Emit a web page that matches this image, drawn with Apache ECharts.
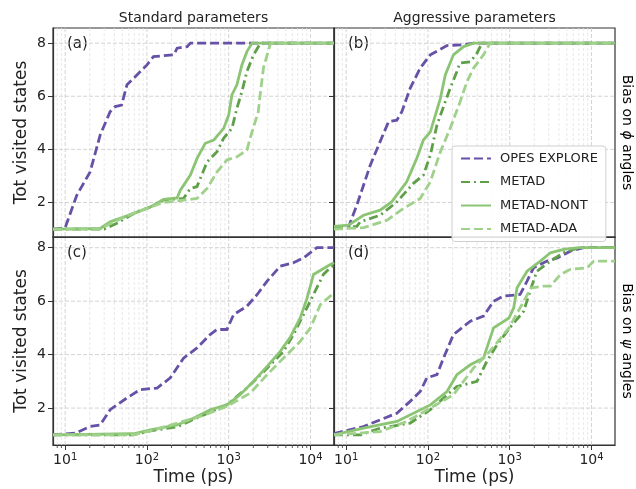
<!DOCTYPE html>
<html>
<head>
<meta charset="utf-8">
<script src="https://cdn.jsdelivr.net/npm/echarts@6/dist/echarts.min.js"></script>
<style>html,body{margin:0;padding:0;background:#fff;}#c{width:636px;height:489px;}</style>
</head>
<body>
<div id="c"></div>
<script>
// ---------- data ----------
const seriesNames = ['OPES EXPLORE', 'METAD', 'METAD-NONT', 'METAD-ADA'];
const xTickValues = [10, 100, 1000, 10000];
const yTickValues = [2, 4, 6, 8];
const minorMultipliers = [2, 3, 4, 5, 6, 7, 8, 9];
const decades = [1, 10, 100, 1000, 10000];
const panelLabels = ['(a)', '(b)', '(c)', '(d)'];
const colTitles = ['Standard parameters', 'Aggressive parameters'];
const rowTitles = ['ϕ', 'ψ'];

// panel (a)
const opesA = [[7.1,1],[10,1.05],[13.9,2.28],[20.2,3.15],[26.8,4.54],[35.5,5.42],[41,5.61],[49,5.67],[57,6.43],[75.5,6.8],[100,7.18],[120,7.49],[213,7.56],[234,7.81],[310,7.87],[340,8],[19400,8]];
const metadA = [[7.1,1],[30,1],[43,1.22],[75.5,1.65],[110,1.83],[160,2.1],[280,2.15],[340,2.53],[410,2.6],[545,3.53],[720,3.91],[867,4.42],[1095,4.79],[1260,5.55],[1450,6.17],[1670,6.93],[2010,7.56],[2450,8],[19400,8]];
const nontA = [[7.1,1],[26.8,1.02],[35.5,1.27],[68.5,1.58],[110,1.83],[160,2.12],[234,2.17],[256,2.46],[340,3.03],[410,3.66],[517,4.23],[656,4.35],[867,4.79],[1000,5.29],[1095,6.05],[1260,6.43],[1450,7.18],[1670,7.68],[1930,8],[19400,8]];
const adaA = [[7.1,1],[26.8,1],[35.5,1.2],[68.5,1.6],[160,2.0],[410,2.15],[545,2.53],[720,3.15],[950,3.6],[1260,3.72],[1670,3.97],[1830,4.42],[2300,5.42],[2450,6.17],[2660,7.06],[3200,7.94],[3400,8],[19400,8]];
// panel (b)
const opesB = [[7.1,1.05],[10.7,1.08],[13.5,1.9],[19.7,3.4],[26,4.29],[33,5.04],[41.7,5.1],[48,5.42],[60.6,6.3],[80.5,7.06],[107,7.56],[171,7.91],[273,7.94],[362,8],[19400,8]];
const metadB = [[7.1,1.05],[13.5,1.1],[14.8,1.27],[26,1.52],[41.7,2.02],[66.5,2.72],[88,3.03],[107,3.78],[129,4.92],[187,6.3],[226,6.93],[246,7.25],[330,7.3],[398,7.62],[457,8],[19400,8]];
const nontB = [[7.1,1.1],[10.7,1.15],[16.3,1.52],[26,1.71],[36,2.02],[55,2.78],[73,3.66],[88,4.35],[107,4.66],[142,5.92],[163,6.8],[205,7.56],[273,7.87],[362,8],[19400,8]];
const adaB = [[7.1,1],[16.3,1.05],[31.5,1.33],[50,1.77],[80.5,2.15],[107,2.78],[142,3.91],[187,4.79],[248,5.8],[300,6.55],[362,7.06],[478,7.56],[575,8],[19400,8]];
// panel (c)
const opesC = [[7.1,1],[13.3,1.06],[20,1.31],[26.8,1.37],[35.5,1.94],[57,2.38],[82.5,2.69],[133,2.75],[193,3.13],[280,3.87],[410,4.25],[593,4.75],[720,4.94],[950,4.94],[1150,5.5],[1670,5.81],[2230,6.25],[2950,6.75],[4270,7.31],[6200,7.44],[8240,7.62],[12000,8],[19400,8]];
const metadC = [[7.1,1],[68,1],[110,1.15],[234,1.3],[450,1.69],[950,2.12],[1670,2.75],[2700,3.37],[4670,4.12],[6200,4.75],[8240,5.5],[10900,6.25],[14400,7.0],[17500,7.25],[19400,7.35]];
const nontC = [[7.1,1],[68,1.04],[110,1.19],[234,1.37],[370,1.62],[593,1.94],[950,2.12],[1380,2.5],[2010,3.0],[2950,3.56],[4270,4.12],[5600,4.63],[7500,5.37],[9100,6.12],[10900,7.0],[17500,7.37],[19400,7.44]];
const adaC = [[7.1,1],[68,1],[110,1.15],[450,1.69],[950,2.06],[1830,2.56],[2950,3.25],[4670,3.87],[7500,4.5],[10000,5.0],[13200,5.87],[19400,6.31]];
// panel (d)
const opesD = [[7.1,1.05],[16.3,1.31],[26,1.56],[41.7,1.81],[60.6,2.25],[80.5,2.62],[97,3.13],[129,3.25],[155,3.87],[205,4.75],[330,5.25],[478,5.44],[635,6.0],[840,6.19],[1340,6.25],[1630,6.75],[1960,7.25],[2860,7.5],[3830,7.62],[5520,7.87],[8000,8],[19400,8]];
const metadD = [[7.1,1],[15,1],[26,1.25],[60.6,1.44],[107,1.94],[226,2.81],[398,3.0],[525,3.75],[700,4.37],[1000,5.0],[1480,5.62],[1830,6.5],[2150,7.12],[3150,7.5],[4560,7.81],[7000,8],[19400,8]];
const nontD = [[7.1,1],[16.3,1.25],[41.7,1.5],[107,2.12],[171,2.62],[226,3.25],[330,3.62],[478,3.87],[635,5.0],[980,5.37],[1120,5.75],[1230,6.5],[1630,7.12],[2370,7.5],[3150,7.81],[4560,7.94],[7000,8],[19400,8]];
const adaD = [[7.1,1],[26,1.12],[55,1.5],[107,2.0],[205,2.5],[362,3.5],[570,4.12],[980,5.0],[1340,5.75],[1830,6.5],[2580,6.56],[3150,6.56],[4170,7.0],[5520,7.19],[8900,7.25],[10700,7.5],[19400,7.5]];

const panels = [
  [opesA, metadA, nontA, adaA],
  [opesB, metadB, nontB, adaB],
  [opesC, metadC, nontC, adaC],
  [opesD, metadD, nontD, adaD]
];

// ---------- styles ----------
const FONT = 'DejaVu Sans';
const colors = ['#6651a6', '#5e9f48', '#8bc574', '#a0d18b'];
const dashes = [[9, 4], [9, 4, 2, 4], 'solid', [9, 4]];
const LW = 2.8;
const X_MIN = 7.1, X_MAX = 19400;

const grids = [
  {left: 53, top: 28, width: 281, height: 209},
  {left: 334, top: 28, width: 281, height: 209},
  {left: 53, top: 237, width: 281, height: 208},
  {left: 334, top: 237, width: 281, height: 208}
];
const yRanges = [[0.7, 8.57], [0.7, 8.57], [0.62, 8.4], [0.62, 8.4]];

const minorX = [];
decades.forEach(d => minorMultipliers.forEach(m => { const v = d * m; if (v > X_MIN && v < X_MAX) minorX.push(v); }));

function gridRender(showMinorTicks) {
  return function (params, api) {
    const cs = params.coordSys;
    const left = cs.x, right = cs.x + cs.width, top = cs.y, bottom = cs.y + cs.height;
    const ch = [];
    minorX.forEach(v => {
      const p = api.coord([v, 2]);
      if (p[0] > left + 0.5 && p[0] < right - 0.5) {
        ch.push({type: 'line', shape: {x1: p[0], y1: top, x2: p[0], y2: bottom},
          style: {stroke: '#e3e3e3', lineWidth: 0.8, lineDash: [3, 2]}});
        if (showMinorTicks) ch.push({type: 'line', shape: {x1: p[0], y1: bottom, x2: p[0], y2: bottom + 3},
          style: {stroke: '#333', lineWidth: 0.8}});
      }
    });
    xTickValues.forEach(v => {
      const p = api.coord([v, 2]);
      if (p[0] > left && p[0] < right)
        ch.push({type: 'line', shape: {x1: p[0], y1: top, x2: p[0], y2: bottom},
          style: {stroke: '#cfcfcf', lineWidth: 0.9, lineDash: [4, 2]}});
    });
    yTickValues.forEach(v => {
      const p = api.coord([100, v]);
      ch.push({type: 'line', shape: {x1: left, y1: p[1], x2: right, y2: p[1]},
        style: {stroke: '#cfcfcf', lineWidth: 0.9, lineDash: [4, 2]}});
    });
    return {type: 'group', children: ch};
  };
}

const xAxes = grids.map((g, i) => ({
  type: 'log', gridIndex: i, min: X_MIN, max: X_MAX, logBase: 10,
  axisLine: {show: true, onZero: false, lineStyle: {color: '#333', width: 1.2}},
  axisTick: {show: i >= 2, inside: false, length: 5, lineStyle: {color: '#333', width: 1}, customValues: xTickValues},
  axisLabel: {show: i >= 2, customValues: xTickValues, margin: 7, color: '#222',
    formatter: v => '{b|10}{s|' + Math.round(Math.log10(v)) + '}',
    rich: {b: {fontSize: 14, fontFamily: FONT, color: '#222'}, s: {fontSize: 10, fontFamily: FONT, color: '#222', padding: [0, 0, 7, 0]}}},
  splitLine: {show: false}, minorTick: {show: false}, minorSplitLine: {show: false}
}));

const yAxes = grids.map((g, i) => ({
  type: 'value', gridIndex: i, min: yRanges[i][0], max: yRanges[i][1],
  axisLine: {show: true, lineStyle: {color: '#333', width: 1.2}},
  axisTick: {show: true, inside: false, length: 5, lineStyle: {color: '#333', width: 1}, customValues: yTickValues},
  axisLabel: {show: i % 2 === 0, customValues: yTickValues, margin: 7, color: '#222', fontSize: 14, fontFamily: FONT},
  splitLine: {show: false}
}));

const series = [];
panels.forEach((p, gi) => {
  series.push({type: 'custom', xAxisIndex: gi, yAxisIndex: gi, data: [[100, 2]], z: 0, silent: true,
    renderItem: gridRender(gi >= 2), clip: false});
  p.forEach((d, si) => {
    series.push({
      type: 'line', name: seriesNames[si], xAxisIndex: gi, yAxisIndex: gi, data: d,
      showSymbol: false, symbol: 'none', z: 2 + si, animation: false,
      lineStyle: {color: colors[si], width: LW, type: dashes[si], cap: 'butt', join: 'miter'},
      itemStyle: {color: colors[si]}
    });
  });
});

const graphic = [];
panelLabels.forEach((t, i) => {
  graphic.push({type: 'text', left: grids[i].left + 14, top: grids[i].top + 9,
    style: {text: t, fontSize: 15, fontFamily: FONT, fill: '#222'}});
});
colTitles.forEach((t, i) => {
  graphic.push({type: 'text', x: grids[i].left + grids[i].width / 2, y: 18,
    style: {text: t, fontSize: 14, fontFamily: FONT, fill: '#222', align: 'center', verticalAlign: 'middle'}});
  graphic.push({type: 'text', x: grids[i].left + grids[i].width / 2, y: 478,
    style: {text: 'Time (ps)', fontSize: 17, fontFamily: FONT, fill: '#222', align: 'center', verticalAlign: 'middle'}});
});
[0, 2].forEach(i => {
  graphic.push({type: 'text', x: 22, y: grids[i].top + grids[i].height / 2, rotation: Math.PI / 2,
    style: {text: 'Tot visited states', fontSize: 17, fontFamily: FONT, fill: '#222', align: 'center', verticalAlign: 'middle'}});
});
rowTitles.forEach((s, r) => {
  const g = grids[r * 2 + 1];
  graphic.push({type: 'text', x: 627, y: g.top + g.height / 2, rotation: -Math.PI / 2,
    style: {text: '{n|Bias on }{i|' + s + '}{n| angles}', align: 'center', verticalAlign: 'middle',
      rich: {n: {fontSize: 14, fontFamily: FONT, color: '#222'}, i: {fontSize: 14, fontFamily: FONT, fontStyle: 'italic', color: '#222'}}}});
});

const chart = echarts.init(document.getElementById('c'), null, {renderer: 'canvas'});
chart.setOption({
  animation: false,
  backgroundColor: '#fff',
  grid: grids.map(g => Object.assign({show: true, borderColor: '#333', borderWidth: 1.2, backgroundColor: 'transparent'}, g)),
  xAxis: xAxes,
  yAxis: yAxes,
  legend: {
    data: seriesNames, orient: 'vertical', left: 452, top: 146,
    itemWidth: 30, itemHeight: 12, itemGap: 10.5, padding: [6, 8, 6, 8],
    backgroundColor: 'rgba(255,255,255,0.85)', borderColor: '#d0d0d0', borderWidth: 1, borderRadius: 3,
    itemStyle: {opacity: 0},
    textStyle: {fontSize: 13, fontFamily: FONT, color: '#222', padding: [0, 0, 0, 4]},
    selectedMode: false
  },
  series: series,
  graphic: graphic
});
</script>
</body>
</html>
